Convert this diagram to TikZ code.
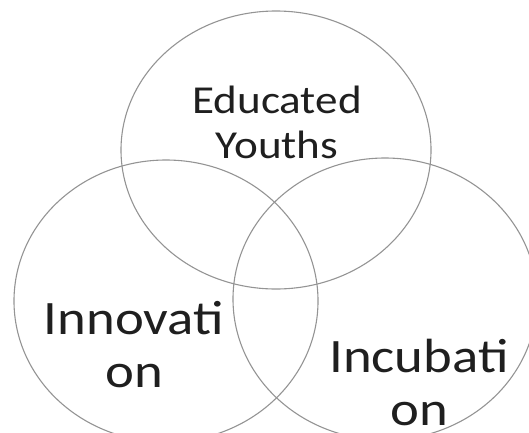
\documentclass[tikz,border=0pt]{standalone}
\usepackage{fontspec}
\setmainfont[FakeStretch=1.14]{Carlito}
\begin{document}
\begin{tikzpicture}[x=1pt,y=-1pt,
  ring/.style={draw=black!42, line width=1.1pt},
  lbl/.style={text=black!88, align=center, inner sep=0pt, anchor=base}]
\useasboundingbox (0,0) rectangle (529,432);
\begin{scope}
\clip (0,0) rectangle (529,432);
\draw[ring] (276,150) ellipse [x radius=155, y radius=139];
\draw[ring] (166,301) ellipse [x radius=152, y radius=141];
\draw[ring] (385,299) ellipse [x radius=152, y radius=141];
\end{scope}
\node[lbl, font=\fontsize{39.6}{45}\selectfont] (edu) at (277,158) {Educated\\Youths};
\node[lbl, font=\fontsize{48}{53}\selectfont] (inn) at (134,387) {Innovati\\on};
\node[lbl, font=\fontsize{48}{53}\selectfont] (inc) at (419,425) {Incubati\\on};
\end{tikzpicture}
\end{document}
